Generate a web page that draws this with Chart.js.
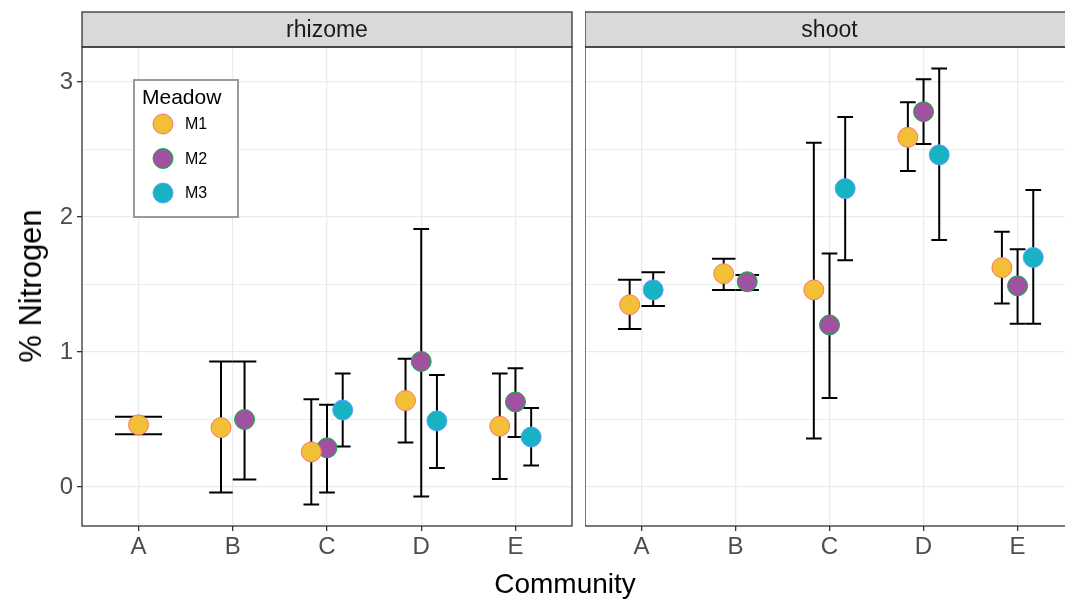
<!DOCTYPE html>
<html>
<head>
<meta charset="utf-8">
<script src="https://cdn.jsdelivr.net/npm/chart.js@4.4.0/dist/chart.umd.min.js"></script>
<style>
  html, body { margin: 0; padding: 0; background: #fff; width: 1065px; height: 599px; overflow: hidden; }
  #wrap { position: relative; width: 1065px; height: 599px; overflow: hidden; }
  canvas { position: absolute; top: 0; }
  #cLeft { left: 0; }
  #cRight { left: 585px; }
  .title { position: absolute; font-family: "Liberation Sans", Arial, sans-serif; font-size: 28px; color: #000; white-space: nowrap; }
  #ytitle { left: 31px; top: 286px; font-size: 31px; transform: translate(-50%, -50%) rotate(-90deg); }
  #xtitle { left: 565px; top: 568px; transform: translateX(-50%); }
</style>
</head>
<body>
<div id="wrap">
  <canvas id="cLeft" width="575" height="599"></canvas>
  <canvas id="cRight" width="492" height="599"></canvas>
  <div class="title" id="ytitle">% Nitrogen</div>
  <div class="title" id="xtitle">Community</div>
</div>
<script>
// データ
const categories = ['A', 'B', 'C', 'D', 'E'];
const meadows = ['M1', 'M2', 'M3'];
const yTicks = [0, 0.5, 1, 1.5, 2, 2.5, 3];

// rhizome
const rhizomeM1 = [0.46, 0.44, 0.26, 0.64, 0.45];
const rhizomeM1Lo = [0.39, -0.04, -0.13, 0.33, 0.06];
const rhizomeM1Hi = [0.52, 0.93, 0.65, 0.95, 0.84];
const rhizomeM2 = [null, 0.50, 0.29, 0.93, 0.63];
const rhizomeM2Lo = [null, 0.055, -0.04, -0.07, 0.37];
const rhizomeM2Hi = [null, 0.93, 0.61, 1.91, 0.88];
const rhizomeM3 = [null, null, 0.57, 0.49, 0.37];
const rhizomeM3Lo = [null, null, 0.30, 0.14, 0.16];
const rhizomeM3Hi = [null, null, 0.84, 0.83, 0.585];

// shoot
const shootM1 = [1.35, 1.58, 1.46, 2.59, 1.625];
const shootM1Lo = [1.17, 1.46, 0.36, 2.34, 1.36];
const shootM1Hi = [1.535, 1.69, 2.55, 2.85, 1.89];
const shootM2 = [null, 1.52, 1.20, 2.78, 1.49];
const shootM2Lo = [null, 1.46, 0.66, 2.54, 1.21];
const shootM2Hi = [null, 1.57, 1.73, 3.02, 1.76];
const shootM3 = [1.46, null, 2.21, 2.46, 1.70];
const shootM3Lo = [1.34, null, 1.68, 1.83, 1.21];
const shootM3Hi = [1.59, null, 2.74, 3.10, 2.20];

const fills = ['#F2C037', '#A052A0', '#17B3C3'];
const edges = ['#F8766D', '#00BA38', '#619CFF'];

const FONT = '"Liberation Sans", Arial, sans-serif';
const DODGE = 0.5;

// 位置のドッジ計算
function buildDatasets(means, los, his) {
    const sets = means.map((m, g) => ({
        label: meadows[g],
        data: [],
        backgroundColor: fills[g],
        borderColor: edges[g],
        borderWidth: 1,
        pointRadius: 10,
        pointHoverRadius: 10
    }));
    categories.forEach((c, i) => {
        const present = [];
        means.forEach((m, g) => { if (m[i] !== null) present.push(g); });
        const n = present.length;
        present.forEach((g, k) => {
            const x = (i + 1) + (k - (n - 1) / 2) * (DODGE / n);
            sets[g].data.push({ x: x, y: means[g][i], lo: los[g][i], hi: his[g][i], hw: DODGE / n / 2 });
        });
    });
    return sets;
}

const errorBars = {
    id: 'errorBars',
    beforeDatasetsDraw(chart) {
        const ctx = chart.ctx;
        const xs = chart.scales.x, ys = chart.scales.y;
        ctx.save();
        ctx.strokeStyle = '#000';
        ctx.lineWidth = 2;
        chart.data.datasets.forEach(ds => {
            ds.data.forEach(p => {
                const x = xs.getPixelForValue(p.x);
                const x0 = xs.getPixelForValue(p.x - p.hw);
                const x1 = xs.getPixelForValue(p.x + p.hw);
                const yl = ys.getPixelForValue(p.lo);
                const yh = ys.getPixelForValue(p.hi);
                ctx.beginPath();
                ctx.moveTo(x, yl); ctx.lineTo(x, yh);
                ctx.moveTo(x0, yl); ctx.lineTo(x1, yl);
                ctx.moveTo(x0, yh); ctx.lineTo(x1, yh);
                ctx.stroke();
            });
        });
        ctx.restore();
    }
};

// ストリップとパネル枠
const facetFrame = {
    id: 'facetFrame',
    afterDraw(chart, args, opts) {
        const ctx = chart.ctx;
        const a = chart.chartArea;
        ctx.save();
        ctx.fillStyle = '#D9D9D9';
        ctx.fillRect(a.left, 12, a.right - a.left, a.top - 12);
        ctx.strokeStyle = '#333';
        ctx.lineWidth = 1.3;
        ctx.strokeRect(a.left, 12, a.right - a.left, a.top - 12);
        ctx.strokeRect(a.left, a.top, a.right - a.left, a.bottom - a.top);
        ctx.fillStyle = '#1A1A1A';
        ctx.font = '23px ' + FONT;
        ctx.textAlign = 'center';
        ctx.textBaseline = 'middle';
        ctx.fillText(opts.strip, (a.left + a.right) / 2, (12 + a.top) / 2 + 1);

        if (opts.legend) {
            ctx.fillStyle = '#fff';
            ctx.fillRect(134, 80, 104, 137);
            ctx.strokeStyle = '#9A9A9A';
            ctx.lineWidth = 2;
            ctx.strokeRect(134, 80, 104, 137);
            ctx.fillStyle = '#000';
            ctx.textAlign = 'left';
            ctx.textBaseline = 'alphabetic';
            ctx.font = '21px ' + FONT;
            ctx.fillText('Meadow', 142, 104);
            meadows.forEach((m, g) => {
                const cy = 124 + g * 34.5;
                ctx.beginPath();
                ctx.arc(163, cy, 10, 0, Math.PI * 2);
                ctx.fillStyle = fills[g];
                ctx.fill();
                ctx.lineWidth = 1;
                ctx.strokeStyle = edges[g];
                ctx.stroke();
                ctx.fillStyle = '#000';
                ctx.font = '16px ' + FONT;
                ctx.textBaseline = 'middle';
                ctx.fillText(m, 185, cy + 1);
                ctx.textBaseline = 'alphabetic';
            });
        }
        ctx.restore();
    }
};

function makeChart(id, means, los, his, strip, isLeft) {
    const ctx = document.getElementById(id).getContext('2d');
    return new Chart(ctx, {
        type: 'scatter',
        data: { datasets: buildDatasets(means, los, his) },
        plugins: [errorBars, facetFrame],
        options: {
            responsive: false,
            animation: false,
            devicePixelRatio: 1,
            layout: { autoPadding: false, padding: { top: 47, right: 3, left: 0, bottom: 0 } },
            plugins: {
                legend: { display: false },
                tooltip: { enabled: false },
                facetFrame: { strip: strip, legend: isLeft }
            },
            scales: {
                x: {
                    type: 'linear',
                    min: 0.4,
                    max: 5.6,
                    afterBuildTicks: s => { s.ticks = categories.map((c, i) => ({ value: i + 1 })); },
                    afterFit: s => { s.height = 599 - 526; s.paddingLeft = 0; s.paddingRight = 0; },
                    border: { display: false },
                    grid: { color: '#EBEBEB', lineWidth: 1.3, tickColor: '#333', tickLength: 5, tickWidth: 1.3 },
                    ticks: {
                        callback: v => categories[v - 1],
                        color: '#4D4D4D',
                        font: { family: FONT, size: 24 },
                        padding: 2,
                        maxRotation: 0
                    }
                },
                y: {
                    min: -0.289,
                    max: 3.259,
                    afterBuildTicks: s => { s.ticks = yTicks.map(v => ({ value: v })); },
                    afterFit: s => { s.width = isLeft ? 82 : 0; s.paddingTop = 0; s.paddingBottom = 0; },
                    border: { display: false },
                    grid: {
                        color: '#EBEBEB',
                        lineWidth: c => (c.tick && Number.isInteger(c.tick.value)) ? 1.3 : 0.9,
                        drawTicks: isLeft,
                        tickLength: 5,
                        tickWidth: 1.3,
                        tickColor: c => (c.tick && Number.isInteger(c.tick.value)) ? '#333' : 'rgba(0,0,0,0)'
                    },
                    ticks: {
                        display: isLeft,
                        callback: v => Number.isInteger(v) ? String(v) : '',
                        color: '#4D4D4D',
                        font: { family: FONT, size: 24 },
                        padding: 4
                    }
                }
            }
        }
    });
}

window.addEventListener('load', () => {
    makeChart('cLeft', [rhizomeM1, rhizomeM2, rhizomeM3], [rhizomeM1Lo, rhizomeM2Lo, rhizomeM3Lo],
        [rhizomeM1Hi, rhizomeM2Hi, rhizomeM3Hi], 'rhizome', true);
    makeChart('cRight', [shootM1, shootM2, shootM3], [shootM1Lo, shootM2Lo, shootM3Lo],
        [shootM1Hi, shootM2Hi, shootM3Hi], 'shoot', false);
});
</script>
</body>
</html>
